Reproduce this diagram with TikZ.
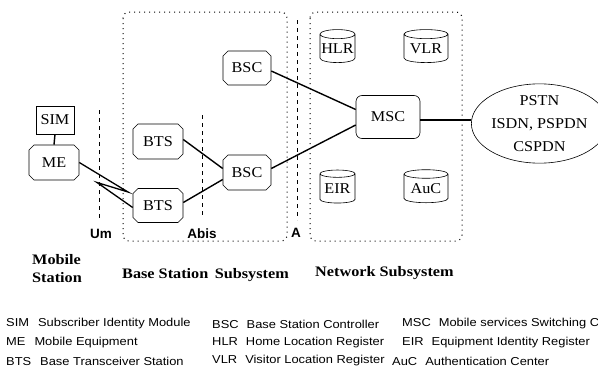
\documentclass[tikz,border=0pt]{standalone}
\usepackage{fontspec}
\setmainfont{Liberation Serif}
\newfontfamily\lsans{Liberation Sans}
\newfontfamily\legfont[FakeStretch=1.12]{Liberation Sans}
\newfontfamily\nodefont[FakeStretch=1.08]{Liberation Serif}
\newfontfamily\ssfont[FakeStretch=1.12]{Liberation Serif}
\usetikzlibrary{shapes.misc,shapes.geometric,calc}
\tikzset{
  x=1pt,y=-1pt,
  unit/.style={chamfered rectangle,chamfered rectangle xsep=2.5pt,chamfered rectangle ysep=2.5pt,draw,line width=0.6pt,inner sep=0pt,font=\nodefont\fontsize{15}{17}\selectfont},
  simbox/.style={rectangle,draw,line width=0.6pt,inner sep=0pt,minimum width=38pt,minimum height=28pt,font=\nodefont\fontsize{15}{17}\selectfont},
  mscbox/.style={rectangle,rounded corners=6pt,draw,line width=0.6pt,inner sep=0pt,minimum width=64pt,minimum height=43pt,font=\nodefont\fontsize{15}{17}\selectfont},
  db/.style={cylinder,shape border rotate=90,aspect=0.28,draw,line width=0.6pt,inner sep=0pt,minimum height=33pt,font=\nodefont\fontsize{15}{17}\selectfont},
  link/.style={line width=1.4pt},
  iface/.style={dash pattern=on 4pt off 4pt,line width=0.9pt},
  subsys/.style={dash pattern=on 1pt off 4pt,line width=1pt,rounded corners=6pt},
  iflabel/.style={font=\lsans\bfseries\fontsize{13.5}{15}\selectfont,inner sep=0pt},
  sslabel/.style={font=\ssfont\bfseries\fontsize{14.5}{18}\selectfont,inner sep=0pt},
  legend/.style={font=\legfont\fontsize{11.5}{12}\selectfont,anchor=west,inner sep=0pt}
}
\begin{document}
\begin{tikzpicture}
\clip (0,0) rectangle (598,370);
\useasboundingbox (0,0) rectangle (598,370);
\fill[white] (0,0) rectangle (598,370);
% subsystem boxes
\draw[subsys] (123,12) rectangle (287,241);
\draw[subsys] (310,12) rectangle (462,241);
% interface lines
\coordinate (um1) at (99,110); \coordinate (um2) at (99,218);
\coordinate (ab1) at (202,115); \coordinate (ab2) at (202,218);
\coordinate (a1) at (297,20); \coordinate (a2) at (297,220);
\draw[iface] (um1) -- (um2);
\draw[iface] (ab1) -- (ab2);
\draw[iface] (a1) -- (a2);
% nodes
\node[simbox] (SIM) at (55,120) {SIM};
\node[unit,minimum width=50pt,minimum height=35pt] (ME) at (54,162.5) {ME};
\node[unit,minimum width=50pt,minimum height=35pt] (BTS1) at (158,141.5) {BTS};
\node[unit,minimum width=50pt,minimum height=34pt] (BTS2) at (158,205.5) {BTS};
\node[unit,minimum width=48pt,minimum height=34pt] (BSC1) at (247,68) {BSC};
\node[unit,minimum width=48pt,minimum height=35pt] (BSC2) at (247,172.5) {BSC};
\node[mscbox] (MSC) at (388,117) {MSC};
\node[db,minimum width=35pt] (HLR) at (337.5,48.5) {HLR};
\node[db,minimum width=44pt] (VLR) at (426,48.5) {VLR};
\node[db,minimum width=35pt] (EIR) at (337.5,188.5) {EIR};
\node[db,minimum width=44pt] (AUC) at (426,188.5) {AuC};
\node[ellipse,draw,line width=0.6pt,inner sep=0pt,minimum width=117pt,minimum height=73pt,align=center,font=\nodefont\fontsize{15}{23}\selectfont] (NET) at (539.5,123.5) {PSTN\\ISDN, PSPDN\\CSPDN};
% connectors
\draw[line width=1.4pt] (SIM.south) -- (ME.north);
\coordinate (bolt1) at (128,192);
\coordinate (bolt2) at (97,182.5);
\draw[line width=1.3pt,line join=miter] (ME.east) -- (bolt1) -- (bolt2) -- ([yshift=-2pt]BTS2.west);
\draw[link] ([yshift=2pt]BTS1.east) -- ([yshift=4pt]BSC2.west);
\draw[link] ([yshift=3pt]BTS2.east) -- ([yshift=-7pt]BSC2.west);
\draw[link] ([yshift=-3pt]BSC1.east) -- ([yshift=7.5pt]MSC.west);
\draw[link] ([yshift=4pt]BSC2.east) -- ([yshift=-8pt]MSC.west);
\draw[link] ([yshift=-3pt]MSC.east) -- ([yshift=-3pt]MSC.east -| NET.west);
% interface labels
\node[iflabel] (lum) at (101,234) {Um};
\node[iflabel] (labis) at (202,234) {Abis};
\node[iflabel] (la) at (296,233) {A};
% subsystem labels
\node[sslabel,align=left,anchor=north west] (lms) at (32,254) {Mobile\\Station};
\node[sslabel,anchor=west] (lbss) at (122,275) {Base Station\, Subsystem};
\node[sslabel,anchor=west] (lnss) at (315,273) {Network Subsystem};
% legend
\node[legend] (g1) at (6,324) {SIM\hspace{9pt}Subscriber Identity Module};
\node[legend] (g2) at (6,342.5) {ME\hspace{9pt}Mobile Equipment};
\node[legend] (g3) at (6,361) {BTS\hspace{9pt}Base Transceiver Station};
\node[legend] (g4) at (212,324) {BSC\hspace{8pt}Base Station Controller};
\node[legend] (g5) at (212,342.5) {HLR\hspace{8pt}Home Location Register};
\node[legend] (g6) at (212,361) {VLR\hspace{8pt}Visitor Location Register};
\node[legend] (g7) at (402,324) {MSC\hspace{8pt}Mobile services Switching Center};
\node[legend] (g8) at (402,342.5) {EIR\hspace{8pt}Equipment Identity Register};
\node[legend] (g9) at (392,361) {AuC\hspace{8pt}Authentication Center};
\end{tikzpicture}
\end{document}
